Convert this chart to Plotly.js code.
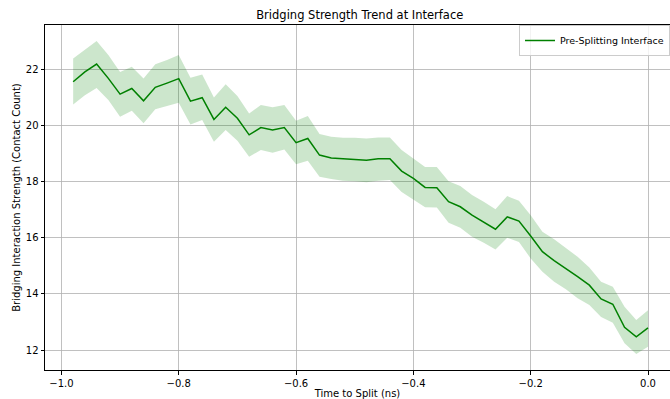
<!DOCTYPE html>
<html>
<head>
<meta charset="utf-8">
<script src="https://cdn.plot.ly/plotly-3.0.1.min.js"></script>
<style>
html,body{margin:0;padding:0;overflow:hidden;background:#fff;}
#chart{width:670px;height:399px;}
</style>
</head>
<body>
<div id="chart"></div>
<script>
const timeToSplit = [-0.98,-0.96,-0.94,-0.92,-0.90,-0.88,-0.86,-0.84,-0.82,-0.80,
  -0.78,-0.76,-0.74,-0.72,-0.70,-0.68,-0.66,-0.64,-0.62,-0.60,
  -0.58,-0.56,-0.54,-0.52,-0.50,-0.48,-0.46,-0.44,-0.42,-0.40,
  -0.38,-0.36,-0.34,-0.32,-0.30,-0.28,-0.26,-0.24,-0.22,-0.20,
  -0.18,-0.16,-0.14,-0.12,-0.10,-0.08,-0.06,-0.04,-0.02,0.00];
const meanStrength = [21.55,21.90,22.18,21.67,21.11,21.31,20.87,21.35,21.50,21.66,
  20.86,20.98,20.21,20.64,20.25,19.66,19.92,19.83,19.92,19.38,
  19.53,18.94,18.84,18.81,18.79,18.76,18.81,18.81,18.37,18.11,
  17.79,17.78,17.28,17.10,16.80,16.54,16.30,16.74,16.59,16.06,
  15.50,15.18,14.91,14.61,14.31,13.82,13.63,12.81,12.47,12.79];
const upperBound = [22.38,22.70,23.00,22.50,21.90,22.08,21.67,22.17,22.32,22.50,
  21.69,21.81,20.99,21.46,21.04,20.42,20.72,20.64,20.72,20.16,
  20.33,19.69,19.59,19.56,19.56,19.53,19.57,19.57,19.12,18.82,
  18.52,18.52,18.01,17.84,17.52,17.28,17.01,17.48,17.31,16.80,
  16.21,15.94,15.64,15.32,14.94,14.43,14.25,13.54,13.07,13.42];
const lowerBound = [20.74,21.07,21.33,20.90,20.30,20.52,20.07,20.57,20.69,20.80,
  20.03,20.19,19.41,19.83,19.45,18.88,19.12,19.02,19.14,18.61,
  18.74,18.17,18.09,18.03,18.01,17.97,18.03,18.05,17.63,17.36,
  17.08,17.07,16.53,16.35,16.03,15.82,15.58,16.00,15.85,15.26,
  14.79,14.43,14.16,13.84,13.60,13.18,12.97,12.24,11.86,12.12];
const xTickVals = [-1.0,-0.8,-0.6,-0.4,-0.2,0.0];
const yTickVals = [12,14,16,18,20,22];

const font = "DejaVu Sans, sans-serif";
const traces = [
  {x: timeToSplit, y: lowerBound, type:'scatter', mode:'lines', line:{width:0, color:'rgba(0,128,0,0)'}, showlegend:false, hoverinfo:'skip'},
  {x: timeToSplit, y: upperBound, type:'scatter', mode:'lines', line:{width:0, color:'rgba(0,128,0,0)'}, fill:'tonexty', fillcolor:'rgba(0,128,0,0.2)', showlegend:false, hoverinfo:'skip'},
  {x: timeToSplit, y: meanStrength, type:'scatter', mode:'lines', name:'Pre-Splitting Interface', line:{color:'#008000', width:1.5}}
];
const layout = {
  width:670, height:399,
  margin:{l:45, r:0, t:25, b:29, autoexpand:false},
  paper_bgcolor:'#fff', plot_bgcolor:'#fff',
  font:{family:font, size:10, color:'#000'},
  title:{text:'Bridging Strength Trend at Interface', font:{family:font, size:11.5, color:'#000'}, x:0.537, xanchor:'center', y:0.972, yanchor:'top'},
  xaxis:{range:[-1.028,0.0375], tickvals:xTickVals, tickformat:'.1f', showgrid:true, gridcolor:'#b0b0b0', gridwidth:0.8,
    showline:true, linecolor:'#000', linewidth:1, mirror:true, ticks:'outside', ticklen:3.5, tickcolor:'#000', zeroline:false, automargin:true,
    tickfont:{family:font, size:10, color:'#000'},
    title:{text:'Time to Split (ns)', font:{family:font, size:10, color:'#000'}, standoff:4}},
  yaxis:{range:[11.29,23.57], tickvals:yTickVals, showgrid:true, gridcolor:'#b0b0b0', gridwidth:0.8,
    showline:true, linecolor:'#000', linewidth:1, ticks:'outside', ticklen:3.5, tickcolor:'#000', zeroline:false, automargin:true,
    tickfont:{family:font, size:10, color:'#000'},
    title:{text:'Bridging Interaction Strength (Contact Count)', font:{family:font, size:10, color:'#000'}, standoff:3}},
  legend:{x:1.0, y:1.0, xanchor:'right', yanchor:'top', bgcolor:'rgba(255,255,255,0.8)', bordercolor:'#cccccc', borderwidth:1,
    font:{family:font, size:9.5, color:'#000'}},
  showlegend:true
};
Plotly.newPlot('chart', traces, layout, {displayModeBar:false, staticPlot:true});
</script>
</body>
</html>
